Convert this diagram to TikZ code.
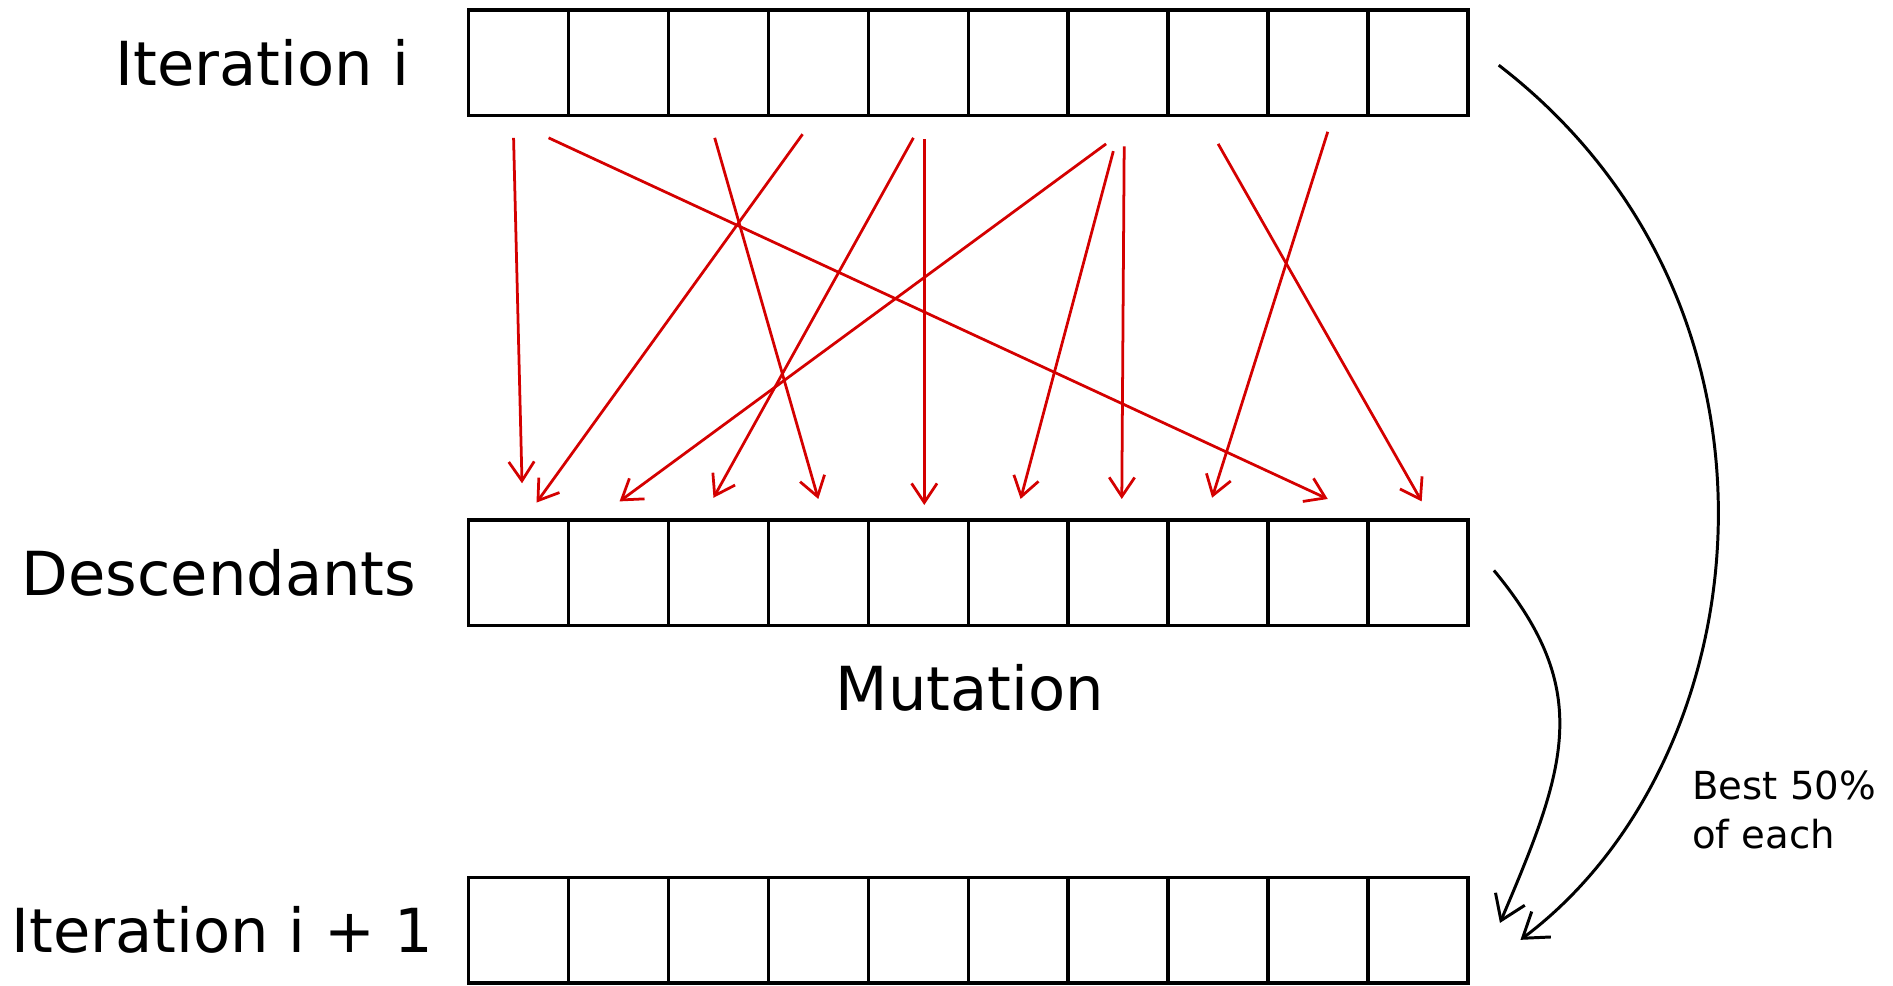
\documentclass[tikz,border=0pt]{standalone}
\usepackage{fontspec}
\setmainfont{DejaVu Sans}
\usetikzlibrary{arrows.meta, positioning}
\definecolor{mutred}{RGB}{212,0,0}

\begin{document}
\begin{tikzpicture}[
  x=0.01cm, y=-0.01cm,
  cell/.style={rectangle, draw, line width=0.8pt, minimum width=0.828cm, minimum height=0.875cm, inner sep=0pt},
  rowlabel/.style={inner sep=0pt, font=\fontsize{14.3}{17}\selectfont},
  note/.style={inner sep=0pt, align=left, font=\fontsize{9.1}{11.4}\selectfont},
  cross/.style={draw=mutred, line width=0.65pt, -{Straight Barb[length=4.5pt, width=6pt]}},
  carry/.style={draw=black, line width=0.7pt, -{Straight Barb[length=5.5pt, width=7.5pt]}},
]
\useasboundingbox (0,0) rectangle (1568,816);

% Rows of cells
\foreach \row/\y in {top/52, mid/474.5, bot/770.5}
  \foreach \i in {1,...,10}
    \node[cell] (\row\i) at ({388+82.8*(\i-0.5)}, \y) {};

% Row labels
\node[rowlabel, left=0.47cm of top1] (iter) {Iteration i};
\node[rowlabel, left=0.41cm of mid1] (desc) {Descendants};
\node[rowlabel, left=0.27cm of bot1] (next) {Iteration i + 1};
\node[rowlabel, below=0.3cm of mid5.south east] (mut) {Mutation};
\node[note, anchor=west] (best) at (1401,671) {Best 50\%\\of each};

% Crossover arrows
\draw[cross] ([shift={(-4,17)}]top1.south) -- ([shift={(3,-29)}]mid1.north);
\draw[cross] ([shift={(25,17)}]top1.south) -- ([shift={(8,-16)}]mid9.north);
\draw[cross] ([shift={(-3,17)}]top3.south) -- ([shift={(0,-16)}]mid4.north);
\draw[cross] ([shift={(-13,14)}]top4.south) -- ([shift={(15,-13)}]mid1.north);
\draw[cross] ([shift={(-4,17)}]top5.south) -- ([shift={(-4,-17)}]mid3.north);
\draw[cross] ([shift={(5,18)}]top5.south) -- ([shift={(5,-11)}]mid5.north);
\draw[cross] ([shift={(-10,22)}]top7.south) -- ([shift={(1,-14)}]mid2.north);
\draw[cross] ([shift={(-4,28)}]top7.south) -- ([shift={(2,-16)}]mid6.north);
\draw[cross] ([shift={(5,24)}]top7.south) -- ([shift={(3,-16)}]mid7.north);
\draw[cross] ([shift={(0,22)}]top8.south) -- ([shift={(3,-14)}]mid10.north);
\draw[cross] ([shift={(8,12)}]top9.south) -- ([shift={(-5,-17)}]mid8.north);

% Selection arrows
\draw[carry] ([shift={(24,2)}]top10.east) .. controls +(260,200) and +(200,-150) .. ([shift={(42,8)}]bot10.east);
\draw[carry] ([shift={(20,-2)}]mid10.east) .. controls +(83,100) and +(55,-129) .. ([shift={(25,-6)}]bot10.east);
\end{tikzpicture}
\end{document}
